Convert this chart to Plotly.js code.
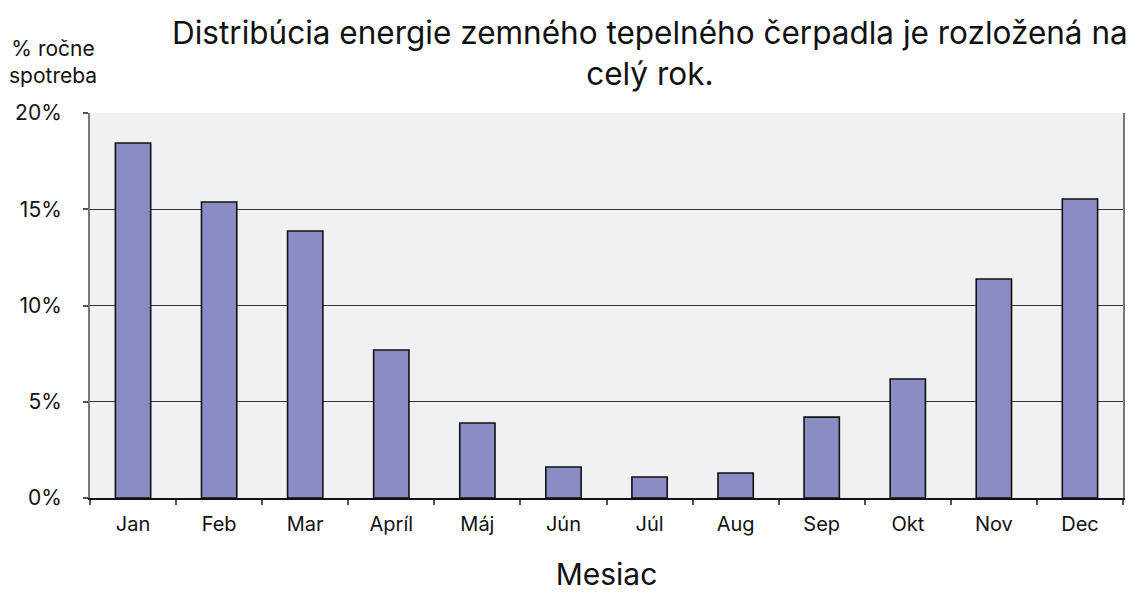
<!DOCTYPE html>
<html>
<head>
<meta charset="utf-8">
<script src="https://cdn.plot.ly/plotly-3.0.1.min.js"></script>
<style>html,body{margin:0;padding:0;background:#fff;}#chart{width:1145px;height:592px;}</style>
</head>
<body>
<div id="chart"></div>
<script>
const months = ["Jan","Feb","Mar","Apríl","Máj","Jún","Júl","Aug","Sep","Okt","Nov","Dec"];
const shares = [18.44, 15.38, 13.87, 7.69, 3.9, 1.61, 1.09, 1.3, 4.2, 6.18, 11.38, 15.53];
const yTicks = [0, 5, 10, 15, 20];
const yTickLabels = ["0%", "5%", "10%", "15%", "20%"];
const chartTitle = "Distribúcia energie zemného tepelného čerpadla je rozložená na<br>celý rok.";
const yLabel = "% ročne<br>spotreba";
const xLabel = "Mesiac";

const font = "Inter, 'Noto Sans', sans-serif";

Plotly.newPlot("chart", [{
  type: "bar",
  x: months,
  y: shares,
  width: 0.41,
  marker: {color: "#8a8cc4", line: {color: "#111", width: 1.6}},
  hoverinfo: "x+y"
}], {
  width: 1145, height: 592,
  margin: {l: 90, r: 22, t: 113, b: 94},
  paper_bgcolor: "#ffffff",
  plot_bgcolor: "#f0f1f3",
  showlegend: false,
  font: {family: font, color: "#111"},
  xaxis: {
    type: "category",
    tickson: "boundaries",
    ticks: "outside", ticklen: 5, tickcolor: "#555", tickwidth: 1.5,
    ticklabelstandoff: 7,
    showline: true, linecolor: "#111", linewidth: 2,
    showgrid: false,
    tickfont: {family: font, size: 20, color: "#111"},
    title: {text: xLabel, font: {family: font, size: 30, color: "#111"}, standoff: 32}
  },
  yaxis: {
    range: [0, 20],
    tickvals: yTicks, ticktext: yTickLabels,
    ticks: "outside", ticklen: 5, tickcolor: "#555", tickwidth: 1.5,
    ticklabelstandoff: 17,
    showline: true, linecolor: "#777", linewidth: 2, mirror: true,
    showgrid: true, gridcolor: "#333", gridwidth: 1,
    zeroline: false,
    tickfont: {family: font, size: 21, color: "#111"}
  },
  annotations: [{
    text: chartTitle,
    xref: "paper", yref: "paper",
    x: 0.542, y: 1.157, xanchor: "center", yanchor: "middle",
    showarrow: false, align: "center",
    font: {family: font, size: 31.5, color: "#111"}
  }, {
    text: yLabel,
    xref: "paper", yref: "paper",
    x: -0.0358, y: 1.132, xanchor: "center", yanchor: "middle",
    showarrow: false, align: "center",
    font: {family: font, size: 21, color: "#111"}
  }]
}, {displayModeBar: false});
</script>
</body>
</html>
